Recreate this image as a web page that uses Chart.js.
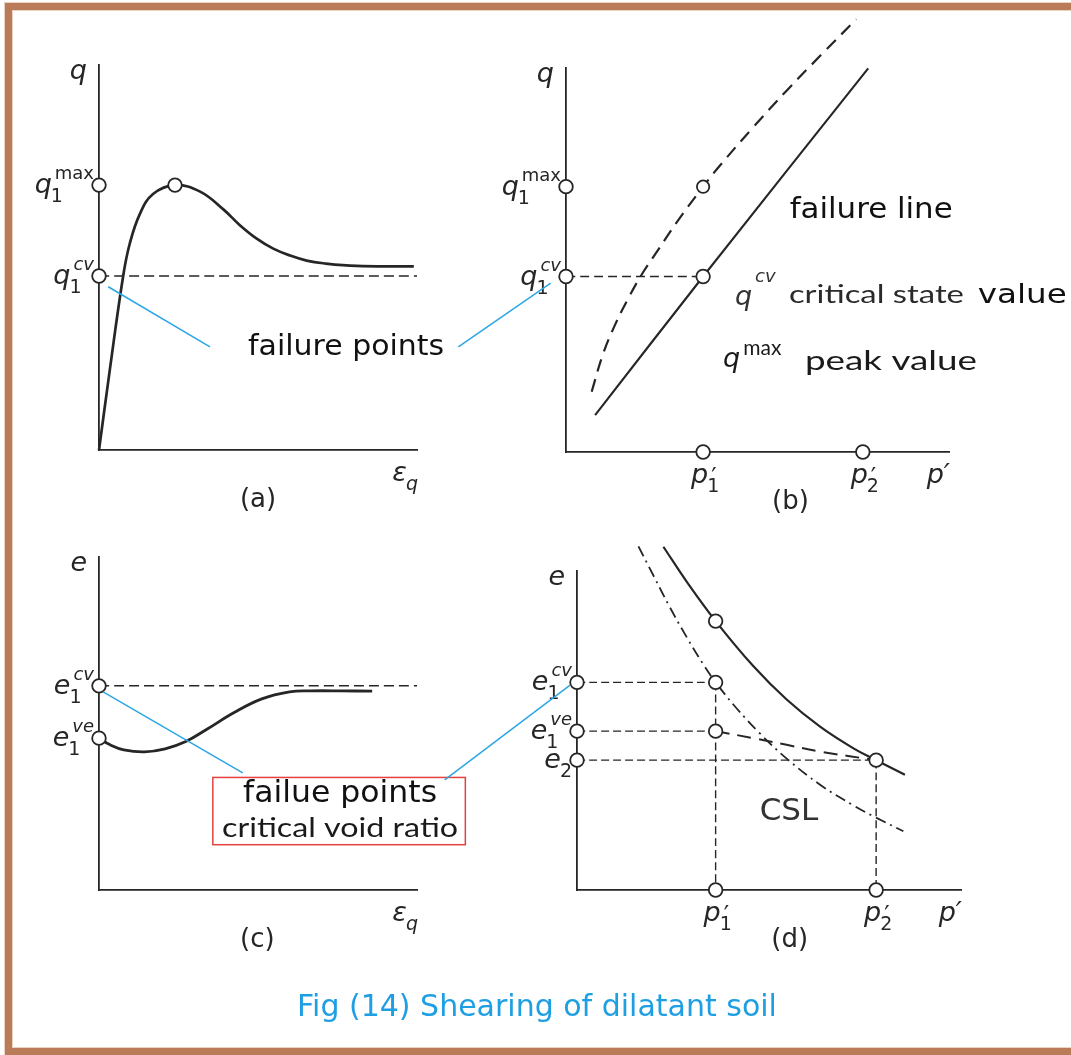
<!DOCTYPE html>
<html>
<head>
<meta charset="utf-8">
<title>Shearing of dilatant soil</title>
<script src="https://cdn.jsdelivr.net/npm/chart.js@4.4.1/dist/chart.umd.min.js"></script>
<style>
  html, body { margin: 0; padding: 0; background: #fff; }
  #sheet { position: relative; width: 1071px; height: 1055px; overflow: hidden; background: #fff; }
  #frame { position: absolute; left: 5px; top: 3px; width: 1200px; height: 1052px; box-sizing: border-box;
           border: 7px solid #b97b58; box-shadow: 0 0 0 1px #ecd2c0, inset 0 0 0 1px #ecd2c0; }
  #sheet canvas { position: absolute; left: 0; top: 0; }
  #caption { position: absolute; left: 297px; top: 991px; font: 30px/30px "DejaVu Sans", sans-serif;
             color: #1f9fe3; white-space: nowrap; }
</style>
</head>
<body>
<div id="sheet">
  <div id="frame"></div>
  <canvas id="panel-a" width="1071" height="1055"></canvas>
  <canvas id="panel-b" width="1071" height="1055"></canvas>
  <canvas id="panel-c" width="1071" height="1055"></canvas>
  <canvas id="panel-d" width="1071" height="1055"></canvas>
  <div id="caption">Fig (14) Shearing of dilatant soil</div>
</div>
<script>
// every panel runs 0..10 along both of its drawn axes

// (a) deviator stress q against shear strain
const strainA = [0, 0.34, 0.76, 0.97, 1.29, 1.7, 2.39, 3.18, 3.91, 4.43, 4.96, 5.48, 6.01, 6.53, 7.05, 8.1, 9.9];
const qA      = [0, 2.08, 4.52, 5.37, 6.14, 6.65, 6.88, 6.71, 6.25, 5.84, 5.49, 5.23, 5.05, 4.92, 4.85, 4.78, 4.77];
const qMaxA = 6.88;
const qCvA = 4.52;
const strainPeakA = 2.39;

// (b) q against mean effective stress p'
const failP = [0.76, 3.58, 7.89];
const failQ = [0.96, 4.57, 9.99];
const peakP = [0.67, 0.97, 1.28, 1.63, 1.97, 2.37, 2.89, 3.58, 4.02, 4.89, 5.76, 6.63, 7.58];
const peakQ = [1.57, 2.56, 3.31, 4.01, 4.61, 5.21, 5.98, 6.91, 7.46, 8.46, 9.41, 10.31, 11.27];
const qMaxB = 6.91;
const qCvB = 4.57;
const p1B = 3.58;
const p2B = 7.75;

// (c) void ratio e against shear strain
const strainC = [0, 0.35, 0.78, 1.43, 2.08, 2.73, 3.38, 4.25, 5.12, 5.99, 6.64, 7.6, 8.59];
const eC      = [4.56, 4.36, 4.21, 4.15, 4.24, 4.46, 4.82, 5.33, 5.74, 5.95, 5.98, 5.98, 5.97];
const eCvC = 6.13;
const eVeC = 4.56;

// (d) e against p'
const ncP  = [2.25, 2.86, 3.61, 4.59, 5.46, 6.33, 7.2, 7.79, 8.54];
const ncE  = [10.76, 9.66, 8.43, 7.02, 5.97, 5.12, 4.44, 4.07, 3.61];
const cslP = [1.6, 1.99, 2.42, 2.86, 3.29, 3.61, 4.16, 4.77, 5.46, 6.33, 7.2, 7.72, 8.5];
const cslE = [10.77, 9.86, 8.86, 7.92, 7.07, 6.51, 5.69, 4.9, 4.12, 3.3, 2.65, 2.31, 1.84];
const eCvD = 6.51;
const eVeD = 4.98;
const e2D = 4.07;
const p1D = 3.61;
const p2D = 7.79;
const eNcP1D = 8.43;
const pathP = [p1D, 4.59, 5.46, 6.33, p2D];
const pathE = [eVeD, 4.76, 4.55, 4.34, e2D];

// where each panel's axes sit on the sheet (px)
const boxes = {
  a: { left: 99, top: 65, right: 417, bottom: 450 },
  b: { left: 566, top: 68, right: 949, bottom: 452 },
  c: { left: 99, top: 557, right: 417, bottom: 890 },
  d: { left: 577, top: 571, right: 961, bottom: 890 }
};

const INK = '#262626';
const SANS = '"DejaVu Sans", Arial, sans-serif';
const SOFT = 'Lato, "Open Sans", sans-serif';
const BLUE = '#2ba6e6';

const xy = (xs, ys) => xs.map((x, i) => ({ x, y: ys[i] }));

const line = (data, width, dash) => ({
  data, borderColor: INK, borderWidth: width, borderDash: dash || [],
  pointRadius: 0, tension: 0.4, clip: false, order: 1
});
const rings = (data, r) => ({
  data, showLine: false, pointRadius: r || 6.8, pointBackgroundColor: '#fff',
  pointBorderColor: INK, pointBorderWidth: 1.8, clip: false, order: 0
});

// q_1^max style labels: italic letter, subscript and superscript stacked on its right
function drawMath(ctx, m, x, y, align) {
  const baseFont = 'italic 27px ' + SANS;
  const subFont = (m.subItalic ? 'italic ' : '') + '19px ' + SANS;
  const supFont = (m.supItalic ? 'italic ' : '') + (m.supSize || 18) + 'px ' + (m.supFamily || SANS);
  const supDy = m.supDy !== undefined ? m.supDy : -14;
  ctx.font = baseFont;
  const wb = ctx.measureText(m.base).width;
  let ws = 0, wp = 0;
  if (m.sub) { ctx.font = subFont; ws = ctx.measureText(m.sub).width - 1; }
  if (m.sup) { ctx.font = supFont; wp = ctx.measureText(m.sup).width + 3; }
  const w = wb + Math.max(ws, wp);
  const x0 = align === 'right' ? x - w : align === 'center' ? x - w / 2 : x;
  ctx.textAlign = 'left';
  ctx.textBaseline = 'alphabetic';
  ctx.font = baseFont;
  ctx.fillText(m.base, x0, y);
  if (m.sub) { ctx.font = subFont; ctx.fillText(m.sub, x0 + wb - 1, y + 9); }
  if (m.sup) { ctx.font = supFont; ctx.fillText(m.sup, x0 + wb + 3, y + supDy); }
}

// plain text, optionally squeezed/stretched to a set width
function drawNote(ctx, n, px, py) {
  ctx.font = n.font;
  ctx.fillStyle = n.color || INK;
  const w = ctx.measureText(n.text).width;
  const sx = n.width ? n.width / w : 1;
  const left = n.align === 'center' ? px - w * sx / 2 : px;
  ctx.save();
  ctx.translate(left, py);
  ctx.scale(sx, 1);
  ctx.textAlign = 'left';
  ctx.textBaseline = 'alphabetic';
  ctx.fillText(n.text, 0, 0);
  ctx.restore();
}

function panelLabels(p) {
  return {
    id: 'panelLabels',
    afterDraw(chart) {
      const { ctx, scales: { x, y } } = chart;
      const X = v => x.getPixelForValue(v);
      const Y = v => y.getPixelForValue(v);
      ctx.save();
      ctx.fillStyle = INK;
      drawMath(ctx, p.yName, X(0) - 12, Y(10) + 14, 'right');
      drawMath(ctx, p.xName, X(10) + 1, Y(0) + 31, 'right');
      p.yMarks.forEach(m => drawMath(ctx, m, X(0) - 5, Y(m.value) + 8, 'right'));
      p.xMarks.forEach(m => drawMath(ctx, m, X(m.value) + 2, Y(0) + 31, 'center'));
      ctx.font = '26px ' + SANS;
      ctx.textAlign = 'center';
      ctx.fillText(p.letter, X(p.letterX), Y(0) + 57);
      if (p.frame) {
        ctx.strokeStyle = '#e5403f';
        ctx.lineWidth = 1.5;
        const f = p.frame;
        ctx.strokeRect(X(f.x0), Y(f.y1), X(f.x1) - X(f.x0), Y(f.y0) - Y(f.y1));
      }
      p.notes.forEach(n => {
        if (n.math) { ctx.fillStyle = n.color || INK; drawMath(ctx, n.math, X(n.x), Y(n.y), 'left'); }
        else drawNote(ctx, n, X(n.x), Y(n.y));
      });
      ctx.restore();
    }
  };
}

function makePanel(id, datasets, labels, extraPlugins) {
  const canvas = document.getElementById('panel-' + id);
  const box = boxes[id];
  const axis = () => ({
    type: 'linear', min: 0, max: 10,
    grid: { display: false, drawTicks: false },
    ticks: { display: false },
    border: { display: true, color: INK, width: 1.8 }
  });
  return new Chart(canvas, {
    type: 'line',
    data: { datasets },
    options: {
      responsive: false,
      animation: false,
      events: [],
      layout: {
        autoPadding: false,
        padding: { left: box.left, top: box.top, right: canvas.width - box.right, bottom: canvas.height - box.bottom }
      },
      plugins: { legend: { display: false }, tooltip: { enabled: false } },
      scales: { x: axis(), y: axis() }
    },
    plugins: [panelLabels(labels)].concat(extraPlugins || [])
  });
}

const qName = { base: 'q' };
const eName = { base: 'e' };
const strainName = { base: '\u03b5', sub: 'q', subItalic: true };
const pName = { base: 'p\u2032' };

// (a)
makePanel('a', [
  line(xy(strainA, qA), 2.7),
  line(xy([0, 10], [qCvA, qCvA]), 1.5, [10, 5]),
  rings(xy([0, 0, strainPeakA], [qMaxA, qCvA, qMaxA]))
], {
  yName: qName, xName: strainName, letter: '(a)', letterX: 5.0,
  yMarks: [
    { value: qMaxA, base: 'q', sub: '1', sup: 'max' },
    { value: qCvA, base: 'q', sub: '1', sup: 'cv', supItalic: true }
  ],
  xMarks: [],
  notes: [
    { text: 'failure points', x: 7.77, y: 2.47, align: 'center', font: '29px ' + SANS, width: 196, color: '#111' }
  ]
});

// (b)
makePanel('b', [
  line(xy(failP, failQ), 2.1),
  line(xy(peakP, peakQ), 2.2, [13, 8]),
  line(xy([0, p1B], [qCvB, qCvB]), 1.5, [9, 5]),
  rings(xy([0, 0, p1B, p1B, p2B], [qMaxB, qCvB, qCvB, 0, 0])),
  rings(xy([p1B], [qMaxB]), 6.2)
], {
  yName: qName, xName: pName, letter: '(b)', letterX: 5.86,
  yMarks: [
    { value: qMaxB, base: 'q', sub: '1', sup: 'max' },
    { value: qCvB, base: 'q', sub: '1', sup: 'cv', supItalic: true }
  ],
  xMarks: [
    { value: p1B, base: 'p', sub: '1', sup: '\u2032', supDy: 2, supSize: 24 },
    { value: p2B, base: 'p', sub: '2', sup: '\u2032', supDy: 2, supSize: 24 }
  ],
  notes: [
    { text: 'failure line', x: 5.84, y: 6.09, font: '29px ' + SANS, width: 163, color: '#111' },
    { math: { base: 'q', sup: 'cv', supItalic: true, supDy: -23 }, x: 4.41, y: 3.82, color: '#333' },
    { text: 'critical state', x: 5.82, y: 3.88, font: '25px ' + SOFT, width: 175, color: '#2a2a2a' },
    { text: 'value', x: 10.75, y: 3.88, font: '26px ' + SANS, width: 89, color: '#111' },
    { math: { base: 'q', sup: 'max', supDy: -12, supSize: 21, supFamily: SOFT }, x: 4.10, y: 2.22, color: '#1a1a1a' },
    { text: 'peak value', x: 6.24, y: 2.14, font: '27px ' + SOFT, width: 172, color: '#1a1a1a' }
  ]
});

// (c)
makePanel('c', [
  line(xy(strainC, eC), 2.8),
  line(xy([0, 10], [eCvC, eCvC]), 1.5, [10, 5]),
  rings(xy([0, 0], [eCvC, eVeC]))
], {
  yName: eName, xName: strainName, letter: '(c)', letterX: 4.98,
  yMarks: [
    { value: eCvC, base: 'e', sub: '1', sup: 'cv', supItalic: true },
    { value: eVeC, base: 'e', sub: '1', sup: 've', supItalic: true }
  ],
  xMarks: [],
  frame: { x0: 3.58, x1: 11.52, y0: 1.36, y1: 3.38 },
  notes: [
    { text: 'failue points', x: 7.58, y: 2.64, align: 'center', font: '30px ' + SANS, width: 194, color: '#111' },
    { text: 'critical void ratio', x: 7.58, y: 1.59, align: 'center', font: '27px ' + SOFT, width: 236, color: '#1a1a1a' }
  ]
});

// leader lines from the "failure points" notes to the axis values they point at
const leaders = [
  { from: ['a', 0.29, 4.24], to: ['a', 3.49, 2.68] },
  { from: ['a', 11.3, 2.68], to: ['b', -0.4, 4.4] },
  { from: ['c', 0.13, 5.95], to: ['c', 4.52, 3.52] },
  { from: ['c', 10.87, 3.31], to: ['d', -0.18, 6.42] }
];
const leaderPlugin = {
  id: 'leaders',
  afterDraw(chart) {
    const ctx = chart.ctx;
    const px = ([id, vx, vy]) => {
      const c = Chart.getChart('panel-' + id);
      return [c.scales.x.getPixelForValue(vx), c.scales.y.getPixelForValue(vy)];
    };
    ctx.save();
    ctx.strokeStyle = BLUE;
    ctx.lineWidth = 1.5;
    leaders.forEach(l => {
      const a = px(l.from), b = px(l.to);
      ctx.beginPath();
      ctx.moveTo(a[0], a[1]);
      ctx.lineTo(b[0], b[1]);
      ctx.stroke();
    });
    ctx.restore();
  }
};

// (d)
makePanel('d', [
  line(xy(ncP, ncE), 2.2),
  line(xy(cslP, cslE), 1.8, [11, 5, 2, 5]),
  line(xy(pathP, pathE), 2, [14, 8]),
  line(xy([0, p1D], [eCvD, eCvD]), 1.4, [8, 4]),
  line(xy([0, p1D], [eVeD, eVeD]), 1.4, [8, 4]),
  line(xy([0, p2D], [e2D, e2D]), 1.4, [8, 4]),
  line(xy([p1D, p1D], [eCvD, 0]), 1.4, [8, 4]),
  line(xy([p2D, p2D], [e2D, 0]), 1.4, [8, 4]),
  rings(xy([0, 0, 0, p1D, p1D, p1D, p2D, p1D, p2D], [eCvD, eVeD, e2D, eNcP1D, eCvD, eVeD, e2D, 0, 0]))
], {
  yName: eName, xName: pName, letter: '(d)', letterX: 5.54,
  yMarks: [
    { value: eCvD, base: 'e', sub: '1', sup: 'cv', supItalic: true },
    { value: eVeD, base: 'e', sub: '1', sup: 've', supItalic: true },
    { value: e2D, base: 'e', sub: '2' }
  ],
  xMarks: [
    { value: p1D, base: 'p', sub: '1', sup: '\u2032', supDy: 2, supSize: 24 },
    { value: p2D, base: 'p', sub: '2', sup: '\u2032', supDy: 2, supSize: 24 }
  ],
  notes: [
    { text: 'CSL', x: 5.52, y: 2.2, align: 'center', font: '31px ' + SANS, color: '#333' }
  ]
}, [leaderPlugin]);
</script>
</body>
</html>
